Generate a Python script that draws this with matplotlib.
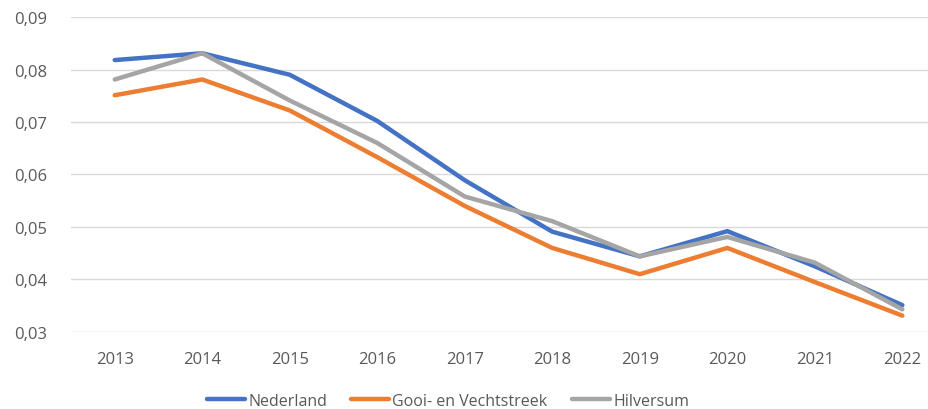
import matplotlib.pyplot as plt
from matplotlib.ticker import FuncFormatter

# Data
jaren = ['2013', '2014', '2015', '2016', '2017', '2018', '2019', '2020', '2021', '2022']
nederland = [0.0818, 0.0831, 0.0790, 0.0702, 0.0589, 0.0491, 0.0444, 0.0492, 0.0425, 0.0351]
gooi_vecht = [0.0751, 0.0781, 0.0722, 0.0633, 0.0540, 0.0460, 0.0410, 0.0460, 0.0395, 0.0331]
hilversum = [0.0781, 0.0831, 0.0741, 0.0660, 0.0558, 0.0511, 0.0444, 0.0481, 0.0432, 0.0343]

plt.rcParams['font.family'] = ['Open Sans', 'DejaVu Sans']
tekst_kleur = '#595959'

fig = plt.figure(figsize=(9.29, 4.10), dpi=100)
ax = fig.add_axes([0.0764, 0.188, 0.942, 0.768])

x = range(len(jaren))
ax.plot(x, nederland, color='#4472C4', lw=3.2, label='Nederland', solid_capstyle='round')
ax.plot(x, gooi_vecht, color='#ED7D31', lw=3.2, label='Gooi- en Vechtstreek', solid_capstyle='round')
ax.plot(x, hilversum, color='#A5A5A5', lw=3.2, label='Hilversum', solid_capstyle='round')

ax.set_xlim(-0.5, len(jaren) - 0.5)
ax.set_ylim(0.03, 0.09)
ax.set_yticks([0.03, 0.04, 0.05, 0.06, 0.07, 0.08, 0.09])
ax.yaxis.set_major_formatter(FuncFormatter(lambda v, _: f'{v:.2f}'.replace('.', ',')))
ax.set_xticks(list(x))
ax.set_xticklabels(jaren)

ax.grid(axis='y', color='#D9D9D9', lw=1)
ax.set_axisbelow(True)
for s in ax.spines.values():
    s.set_visible(False)
ax.tick_params(length=0, labelsize=12, colors=tekst_kleur)
ax.tick_params(axis='y', pad=17)
ax.tick_params(axis='x', pad=14)

fig.legend(loc='center', bbox_to_anchor=(0.482, 0.02), ncol=3, frameon=False,
           fontsize=11.5, labelcolor=tekst_kleur, handlelength=2.4,
           handletextpad=0.2, columnspacing=1.5)

plt.savefig('out.png', dpi=100)
plt.close()
